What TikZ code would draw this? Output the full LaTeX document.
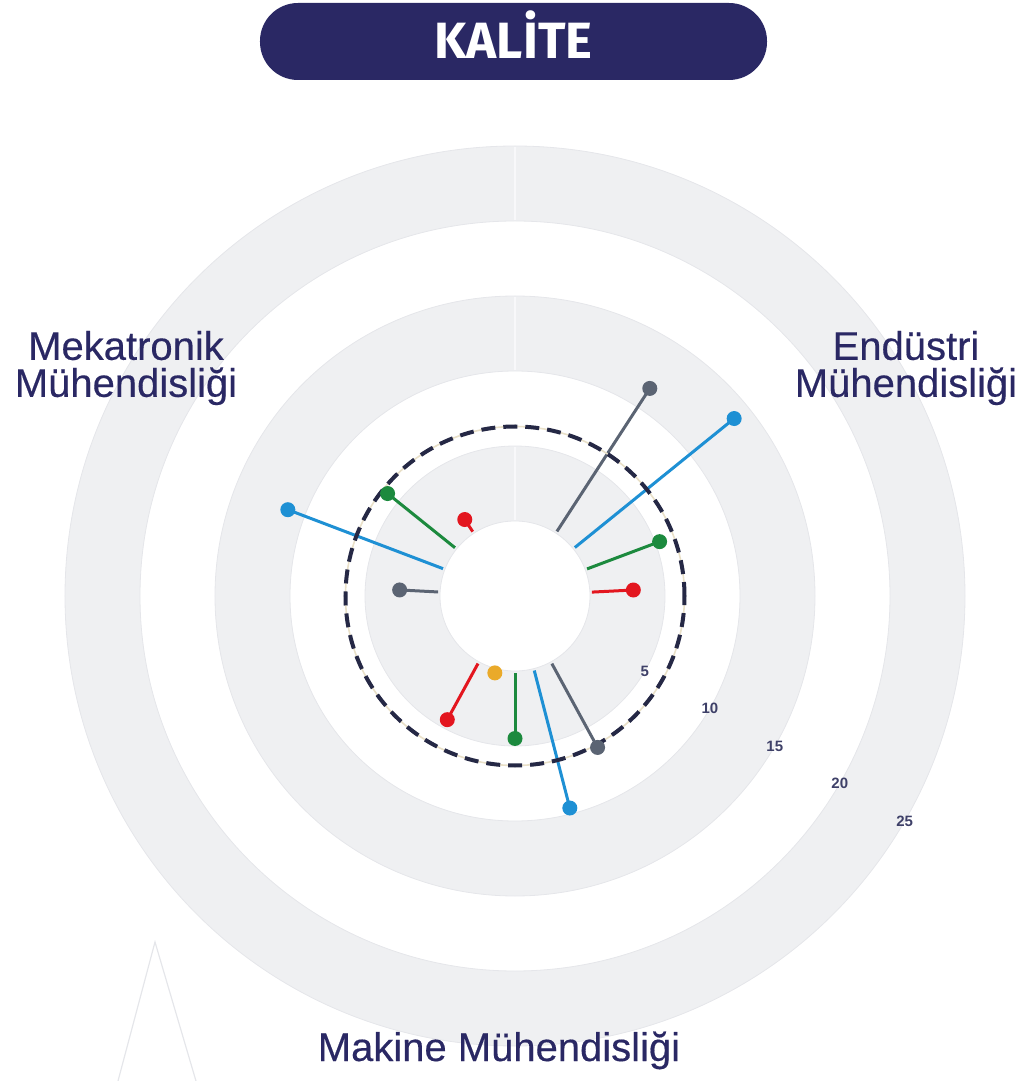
\documentclass[tikz,border=0pt]{standalone}
\usepackage{fontspec}
\setmainfont{Liberation Sans}
\newfontfamily\titlefont{Fira Sans}
\newfontfamily\deptfont[FakeBold=0.35]{Liberation Sans}

\definecolor{navy}{HTML}{2A2864}
\definecolor{ticknavy}{HTML}{3E4068}
\definecolor{dashnavy}{HTML}{252845}
\definecolor{ringgrey}{HTML}{EFF0F2}
\definecolor{ringedge}{HTML}{E5E6EA}
\definecolor{sepwhite}{HTML}{F8F8FA}
\definecolor{halo}{HTML}{E9E0C8}
\definecolor{slate}{HTML}{5B6473}
\definecolor{sky}{HTML}{1E90D4}
\definecolor{leaf}{HTML}{1C8A3E}
\definecolor{scarlet}{HTML}{E3161F}
\definecolor{amber}{HTML}{EAAA2A}

\newcommand{\hole}{75}
\newcommand{\band}{15}

\begin{document}
\begin{tikzpicture}[x=0.5pt, y=0.5pt,
    ring/.style={fill=ringgrey, draw=ringedge, line width=0.4pt, even odd rule},
    sep/.style={draw=sepwhite, line width=0.6pt},
    spoke/.style={line width=1.5pt},
    dot/.style={circle, fill, inner sep=0pt, minimum size=7.5pt},
    tick/.style={font=\bfseries\fontsize{7.5}{9}\selectfont, text=ticknavy, inner sep=0pt},
    dept/.style={font=\deptfont\fontsize{20}{18.5}\selectfont, text=navy, align=center, inner sep=0pt}]

    \useasboundingbox (-515,-485) rectangle (509,596);

    % Rings
    \path[ring] (0,0) circle (450) circle (375);
    \path[ring] (0,0) circle (300) circle (225);
    \path[ring] (0,0) circle (150) circle (75);
    \draw[sep] (90:376) -- (90:449);
    \draw[sep] (90:226) -- (90:299);
    \draw[sep] (90:76) -- (90:149);

    % Title
    \node[fill=navy, rounded corners=19pt, minimum width=253.5pt, minimum height=38.5pt,
          text height=17.5pt, text depth=0pt, text=white,
          font=\titlefont\bfseries\fontsize{25.5}{26}\selectfont] (title) at (-1.5,554.5) {KALİTE};

    % Department labels
    \node[dept] (mek) at (-389,228) {Mekatronik\\Mühendisliği};
    \node[dept] (ind) at (391,228) {Endüstri\\Mühendisliği};
    \node[dept, anchor=base] (mak) at (-16,-465) {Makine Mühendisliği};

    % Scale
    \node[tick] (t5) at (-30:{\hole+\band*5}) {5};
    \node[tick] (t10) at (-30:{\hole+\band*10}) {10};
    \node[tick] (t15) at (-30:{\hole+\band*15}) {15};
    \node[tick] (t20) at (-30:{\hole+\band*20}) {20};
    \node[tick] (t25) at (-30:{\hole+\band*25}) {25};

    % Endüstri Mühendisliği
    \coordinate (ind-slate-in) at (57:77);
    \coordinate (ind-slate-out) at (57:{\hole+\band*11.5});
    \coordinate (ind-sky-in) at (39:77);
    \coordinate (ind-sky-out) at (39:{\hole+\band*13.8});
    \coordinate (ind-leaf-in) at (20.6:77);
    \coordinate (ind-leaf-out) at (20.6:{\hole+\band*5.3});
    \coordinate (ind-scarlet-in) at (2.9:77);
    \coordinate (ind-scarlet-out) at (2.9:{\hole+\band*2.9});

    % Makine Mühendisliği
    \coordinate (mak-scarlet-in) at (241.3:77);
    \coordinate (mak-scarlet-out) at (241.3:{\hole+\band*4.4});
    \coordinate (mak-amber-out) at (255.3:{\hole+\band*0.3});
    \coordinate (mak-leaf-in) at (270:77);
    \coordinate (mak-leaf-out) at (270:{\hole+\band*4.5});
    \coordinate (mak-sky-in) at (284.5:77);
    \coordinate (mak-sky-out) at (284.5:{\hole+\band*9.6});
    \coordinate (mak-slate-in) at (298.6:77);
    \coordinate (mak-slate-out) at (298.6:{\hole+\band*6.5});

    % Mekatronik Mühendisliği
    \coordinate (mek-scarlet-in) at (123.3:77);
    \coordinate (mek-scarlet-out) at (123.3:{\hole+\band*1.1});
    \coordinate (mek-leaf-in) at (141.2:77);
    \coordinate (mek-leaf-out) at (141.2:{\hole+\band*5.9});
    \coordinate (mek-sky-in) at (159.2:77);
    \coordinate (mek-sky-out) at (159.2:{\hole+\band*11.2});
    \coordinate (mek-slate-in) at (177:77);
    \coordinate (mek-slate-out) at (177:{\hole+\band*2.7});

    \draw[spoke, slate] (ind-slate-in) -- (ind-slate-out);
    \draw[spoke, sky] (ind-sky-in) -- (ind-sky-out);
    \draw[spoke, leaf] (ind-leaf-in) -- (ind-leaf-out);
    \draw[spoke, scarlet] (ind-scarlet-in) -- (ind-scarlet-out);
    \draw[spoke, scarlet] (mak-scarlet-in) -- (mak-scarlet-out);
    \draw[spoke, leaf] (mak-leaf-in) -- (mak-leaf-out);
    \draw[spoke, sky] (mak-sky-in) -- (mak-sky-out);
    \draw[spoke, slate] (mak-slate-in) -- (mak-slate-out);
    \draw[spoke, scarlet] (mek-scarlet-in) -- (mek-scarlet-out);
    \draw[spoke, leaf] (mek-leaf-in) -- (mek-leaf-out);
    \draw[spoke, sky] (mek-sky-in) -- (mek-sky-out);
    \draw[spoke, slate] (mek-slate-in) -- (mek-slate-out);

    % Average
    \draw[halo, line width=0.8pt] (0,0) circle ({\hole+\band*6.3});
    \draw[dashnavy, line width=2pt, dash pattern=on 7pt off 4pt] (0,0) circle ({\hole+\band*6.3});

    \node[dot, fill=slate] (ind-slate) at (ind-slate-out) {};
    \node[dot, fill=sky] (ind-sky) at (ind-sky-out) {};
    \node[dot, fill=leaf] (ind-leaf) at (ind-leaf-out) {};
    \node[dot, fill=scarlet] (ind-scarlet) at (ind-scarlet-out) {};
    \node[dot, fill=scarlet] (mak-scarlet) at (mak-scarlet-out) {};
    \node[dot, fill=amber] (mak-amber) at (mak-amber-out) {};
    \node[dot, fill=leaf] (mak-leaf) at (mak-leaf-out) {};
    \node[dot, fill=sky] (mak-sky) at (mak-sky-out) {};
    \node[dot, fill=slate] (mak-slate) at (mak-slate-out) {};
    \node[dot, fill=scarlet] (mek-scarlet) at (mek-scarlet-out) {};
    \node[dot, fill=leaf] (mek-leaf) at (mek-leaf-out) {};
    \node[dot, fill=sky] (mek-sky) at (mek-sky-out) {};
    \node[dot, fill=slate] (mek-slate) at (mek-slate-out) {};

    % Marks at lower left
    \coordinate (apex) at (-360,-346);
    \coordinate (foot-l) at (-397,-485);
    \coordinate (foot-r) at (-319,-485);
    \draw[ringedge, line width=0.6pt] (foot-l) -- (apex) -- (foot-r);
\end{tikzpicture}
\end{document}
